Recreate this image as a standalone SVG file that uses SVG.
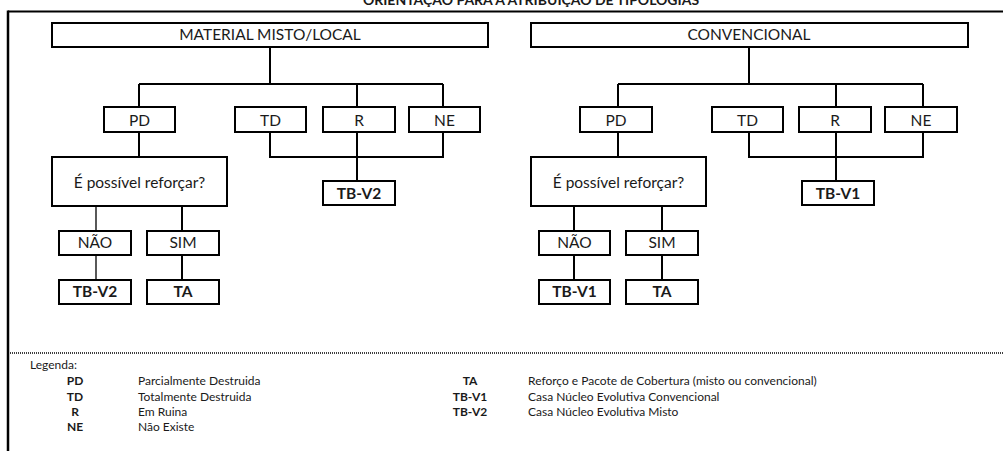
<svg xmlns="http://www.w3.org/2000/svg" width="1003" height="451" viewBox="0 0 1003 451">
<style>
  .box { fill: #fff; stroke: #000; stroke-width: 2; }
  .ln { fill: none; stroke: #000; stroke-width: 2; }
  .thin { fill: none; stroke: #000; stroke-width: 1.3; }
  .t { font-family: Lato, "Liberation Sans", sans-serif; font-size: 15.5px; fill: #1a1a1a; text-anchor: middle; }
  .b { font-weight: bold; }
  .lg { font-family: Lato, "Liberation Sans", sans-serif; font-size: 12px; fill: #1a1a1a; }
  .lgb { font-family: Lato, "Liberation Sans", sans-serif; font-size: 12px; font-weight: bold; fill: #1a1a1a; text-anchor: middle; }
</style>
<rect width="1003" height="451" fill="#fff"/>
<text x="531" y="5" font-family="Lato, 'Liberation Sans', sans-serif" font-size="14" font-weight="bold" text-anchor="middle" fill="#1a1a1a">ORIENTAÇÃO PARA A ATRIBUIÇÃO DE TIPOLOGIAS</text>
<g id="frame">
  <line x1="8" y1="11.5" x2="1003" y2="11.5" stroke="#000" stroke-width="2"/>
  <line x1="8" y1="10.5" x2="8" y2="451" stroke="#000" stroke-width="2.5"/>
  <line x1="8" y1="353" x2="1003" y2="353" stroke="#000" stroke-width="1.5" stroke-dasharray="1 1"/>
</g>
<g id="connectors">
  <path class="ln" d="M270 47V84M139 84H443M139 84V107M357 84V107M443 84V107"/>
  <path class="ln" d="M139 132V157M270 132V157H443V132M357 132V181"/>
  <path class="thin" d="M96 206V231M96 255V280"/>
  <path class="ln" d="M182 206V231M182 255V280"/>
  <path class="ln" d="M749 47V84M618 84H923M618 84V107M836 84V107M923 84V107"/>
  <path class="ln" d="M618 132V157M749 132V157H923V132M836 132V181"/>
  <path class="ln" d="M574 206V231M574 255V280M662 206V231M662 255V280"/>
</g>
<g id="material">
  <rect class="box" x="52" y="23" width="436" height="24"/>
  <text class="t" x="270" y="40">MATERIAL MISTO/LOCAL</text>
</g>
<g id="pd1"><rect class="box" x="104" y="107" width="71" height="25"/><text class="t" x="139.5" y="126">PD</text></g>
<g id="td1"><rect class="box" x="235" y="107" width="71" height="25"/><text class="t" x="270.5" y="126">TD</text></g>
<g id="r1"><rect class="box" x="323" y="107" width="72" height="25"/><text class="t" x="359" y="126">R</text></g>
<g id="ne1"><rect class="box" x="409" y="107" width="71" height="25"/><text class="t" x="444.5" y="126">NE</text></g>
<g id="q1"><rect class="box" x="52" y="157" width="175" height="49"/><text class="t" x="139.5" y="188">É possível reforçar?</text></g>
<g id="tbv2a"><rect class="box" x="323" y="181" width="72" height="24"/><text class="t b" x="359" y="199">TB-V2</text></g>
<g id="nao1"><rect class="box" x="59" y="231" width="72" height="24"/><text class="t" x="95" y="248">NÃO</text></g>
<g id="sim1"><rect class="box" x="147" y="231" width="72" height="24"/><text class="t" x="183" y="248">SIM</text></g>
<g id="tbv2b"><rect class="box" x="59" y="280" width="72" height="24"/><text class="t b" x="95" y="297">TB-V2</text></g>
<g id="ta1"><rect class="box" x="147" y="280" width="72" height="24"/><text class="t b" x="183" y="297">TA</text></g>

<g id="convencional">
  <rect class="box" x="531" y="23" width="437" height="24"/>
  <text class="t" x="749" y="40">CONVENCIONAL</text>
</g>
<g id="pd2"><rect class="box" x="580" y="107" width="72" height="25"/><text class="t" x="616" y="126">PD</text></g>
<g id="td2"><rect class="box" x="712" y="107" width="71" height="25"/><text class="t" x="747.5" y="126">TD</text></g>
<g id="r2"><rect class="box" x="799" y="107" width="72" height="25"/><text class="t" x="835" y="126">R</text></g>
<g id="ne2"><rect class="box" x="885" y="107" width="72" height="25"/><text class="t" x="921" y="126">NE</text></g>
<g id="q2"><rect class="box" x="531" y="157" width="175" height="49"/><text class="t" x="618.5" y="188">É possível reforçar?</text></g>
<g id="tbv1a"><rect class="box" x="802" y="181" width="72" height="24"/><text class="t b" x="838" y="199">TB-V1</text></g>
<g id="nao2"><rect class="box" x="539" y="231" width="71" height="24"/><text class="t" x="574.5" y="248">NÃO</text></g>
<g id="sim2"><rect class="box" x="626" y="231" width="72" height="24"/><text class="t" x="662" y="248">SIM</text></g>
<g id="tbv1b"><rect class="box" x="539" y="280" width="71" height="24"/><text class="t b" x="574.5" y="297">TB-V1</text></g>
<g id="ta2"><rect class="box" x="626" y="280" width="72" height="24"/><text class="t b" x="662" y="297">TA</text></g>

<g id="legend">
  <text class="lg" x="30" y="369">Legenda:</text>
  <text class="lgb" x="75" y="385">PD</text><text class="lg" x="138" y="385">Parcialmente Destruida</text>
  <text class="lgb" x="75" y="401">TD</text><text class="lg" x="138" y="401">Totalmente Destruida</text>
  <text class="lgb" x="75" y="416">R</text><text class="lg" x="138" y="416">Em Ruina</text>
  <text class="lgb" x="75" y="431">NE</text><text class="lg" x="138" y="431">Não Existe</text>
  <text class="lgb" x="470" y="385">TA</text><text class="lg" x="528" y="385">Reforço e Pacote de Cobertura (misto ou convencional)</text>
  <text class="lgb" x="470" y="401">TB-V1</text><text class="lg" x="528" y="401">Casa Núcleo Evolutiva Convencional</text>
  <text class="lgb" x="470" y="416">TB-V2</text><text class="lg" x="528" y="416">Casa Núcleo Evolutiva Misto</text>
</g>
</svg>
